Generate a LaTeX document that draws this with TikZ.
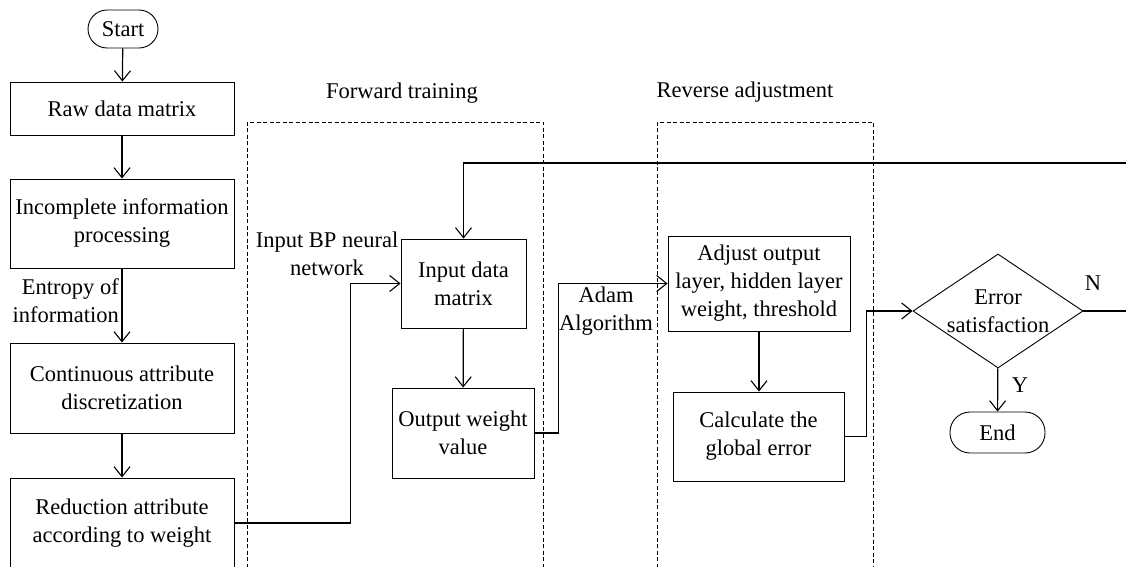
\documentclass[tikz,border=0pt]{standalone}
\usepackage{fontspec}
\setmainfont{Liberation Serif}
\usepackage{tikz}
\usetikzlibrary{positioning, arrows.meta, shapes.geometric, calc}

\tikzset{
    stepbox/.style={draw, line width=0.9pt, inner sep=1pt, align=center},
    term/.style={draw, line width=0.9pt, rounded corners=19pt, inner sep=1pt},
    decision/.style={draw, diamond, line width=0.9pt, inner sep=-3pt,
                     aspect=1.49, align=center},
    stage/.style={draw, line width=0.8pt, dash pattern=on 4pt off 2.5pt},
    note/.style={inner sep=0pt, align=center},
    flow/.style={line width=1.2pt, -{Straight Barb[length=10pt, width=16pt, line width=1.1pt]}},
    link/.style={line width=1.2pt}
}

\begin{document}
\begin{tikzpicture}[x=1pt, y=-1pt, font=\fontsize{22.5}{28}\selectfont]
    \path[use as bounding box, clip] (0,0) rectangle (1126,567);
    \fill[white] (0,0) rectangle (1126,567);

    % stage frames
    \draw[stage] (247,600) -- (247,122) -- (543,122) -- (543,600);
    \draw[stage] (657,600) -- (657,122) -- (873,122) -- (873,600);
    \node[note] (fwdlbl) at (402,93) {Forward training};
    \node[note] (revlbl) at (745,92) {Reverse adjustment};

    % left column
    \node[term, minimum width=70pt, minimum height=38pt] (start) at (123,29) {Start};
    \node[stepbox, minimum width=224pt, minimum height=53pt] (raw) at (122,108.5) {Raw data matrix};
    \node[stepbox, minimum width=224pt, minimum height=89pt] (incomplete) at (122,223.5)
        {Incomplete information\\processing};
    \node[stepbox, minimum width=224pt, minimum height=90pt] (continuous) at (122,388)
        {Continuous attribute\\discretization};
    \node[stepbox, minimum width=224pt, minimum height=90pt] (reduction) at (122,523)
        {Reduction attribute\\according to weight};
    \node[note, align=right, anchor=east] (entropy) at (119,301) {Entropy of\\information};

    % forward training
    \node[stepbox, minimum width=125pt, minimum height=89pt] (input) at (463.5,283.5)
        {Input data\\matrix};
    \node[stepbox, minimum width=142pt, minimum height=90pt] (output) at (463,433)
        {Output weight\\value};
    \node[note] (bplbl) at (327,253.5) {Input BP neural\\network};

    % reverse adjustment
    \node[stepbox, minimum width=182pt, minimum height=95pt] (adjust) at (759,283.5)
        {Adjust output\\layer, hidden layer\\weight, threshold};
    \node[stepbox, minimum width=171pt, minimum height=89pt] (calc) at (758.5,436.5)
        {Calculate the\\global error};
    \node[note] (adamlbl) at (606,311.5) {Adam\\Algorithm};

    % decision
    \node[decision, minimum width=170pt, minimum height=114pt] (check) at (998,311)
        {Error\\satisfaction};
    \node[term, minimum width=95pt, minimum height=41pt, rounded corners=20pt] (finish) at (997.5,432.5) {End};
    \node[note] (nlbl) at (1093,283) {N};
    \node[note] (ylbl) at (1020,385) {Y};
    \coordinate (loop) at (1140,163);

    % connectors
    \draw[flow] (start) -- (raw);
    \draw[flow] (raw) -- (incomplete);
    \draw[flow] (incomplete) -- (continuous);
    \draw[flow] (continuous) -- (reduction);
    \draw[flow] (reduction.east) -- ++(116,0) |- (input.west);
    \draw[flow] (input) -- (output);
    \draw[flow] (output.east) -- ++(24,0) |- (adjust.west);
    \draw[flow] (adjust) -- (adjust |- calc.north);
    \draw[flow] (calc.east) -- ++(22,0) |- (check.west);
    \draw[flow] (check) -- (finish);
    \draw[flow] (check.east) -| (loop) -| (input.north);
\end{tikzpicture}
\end{document}
